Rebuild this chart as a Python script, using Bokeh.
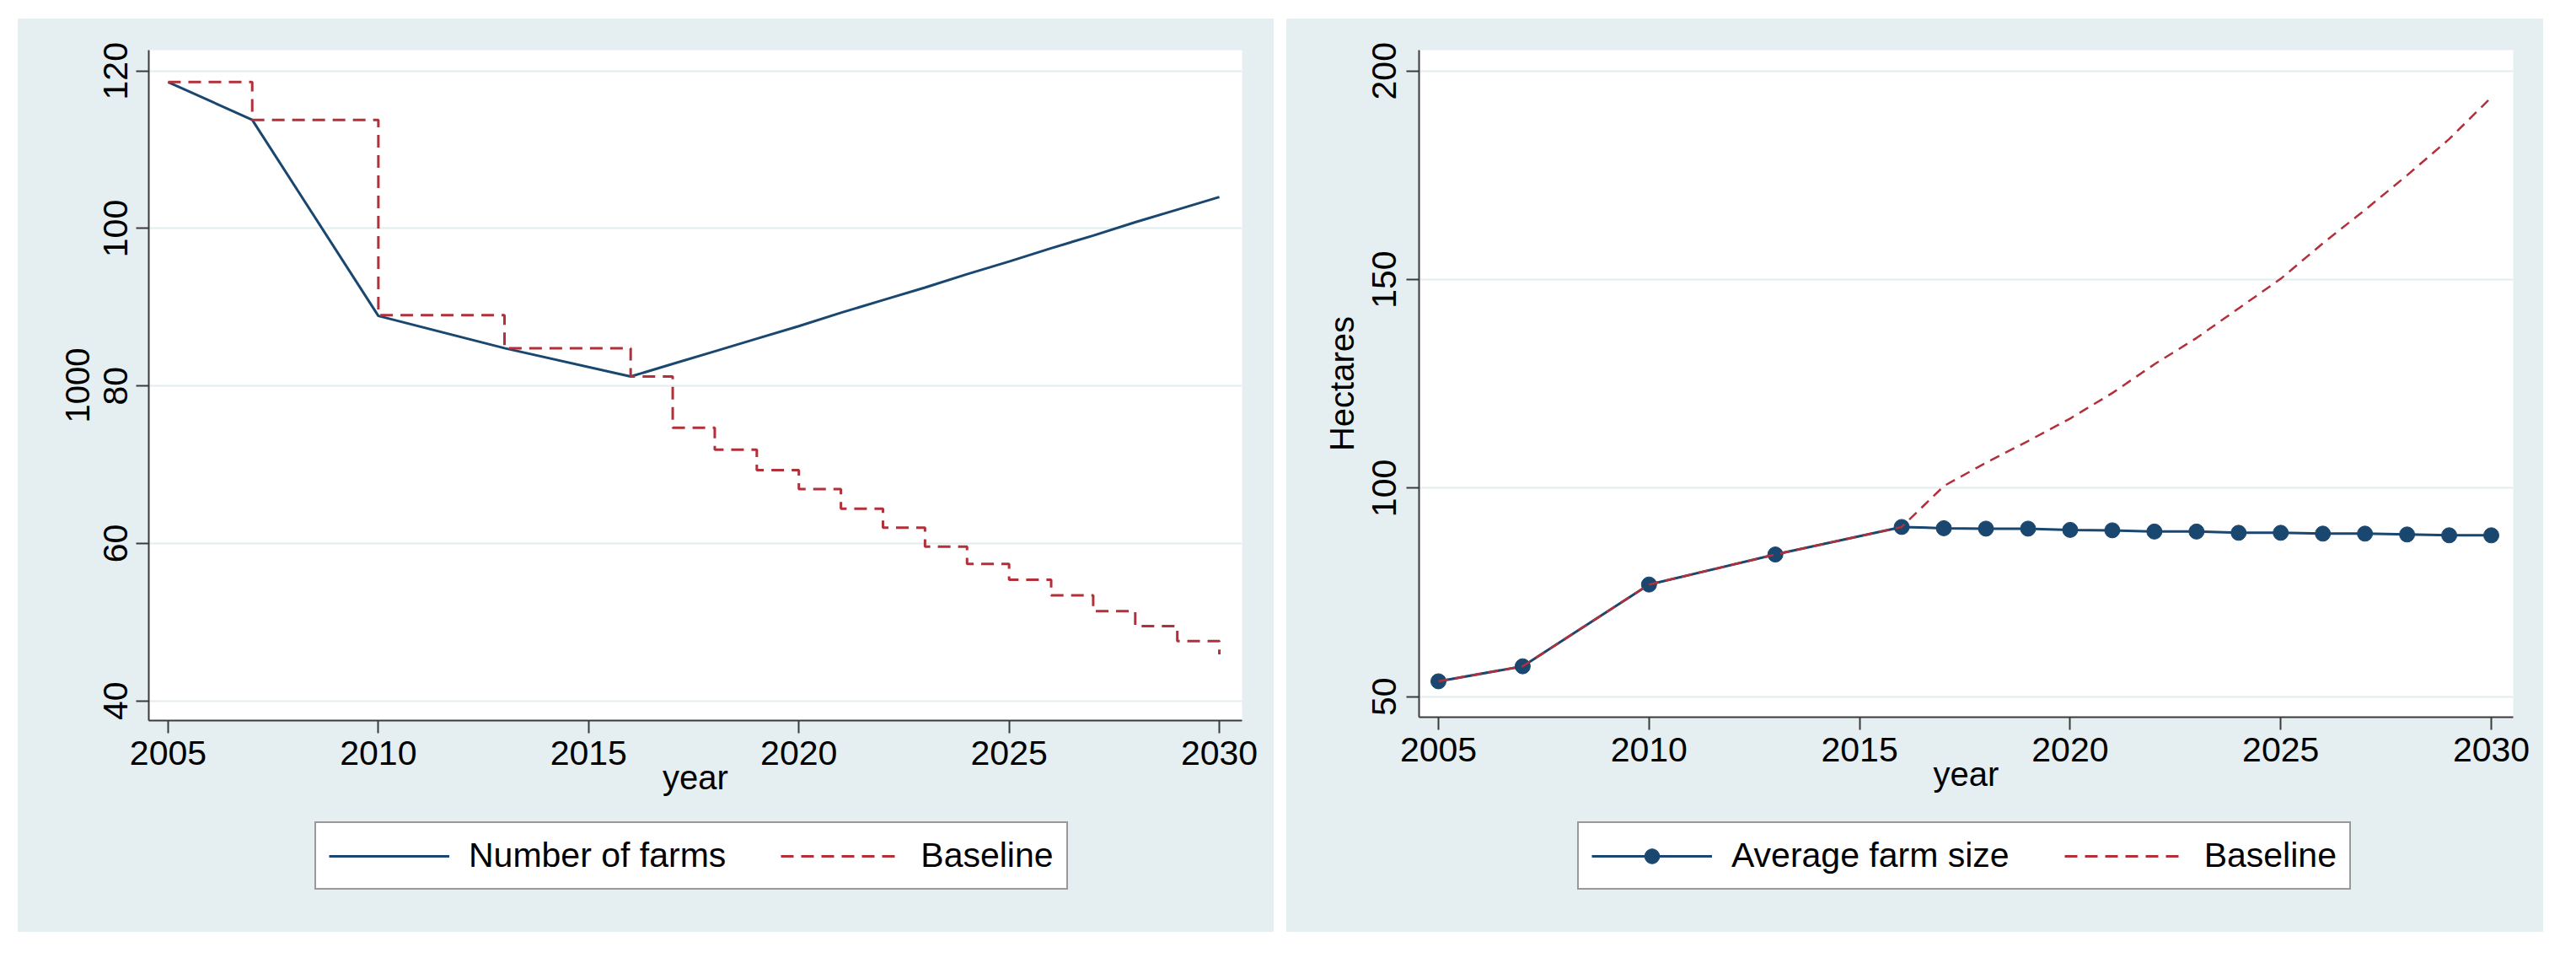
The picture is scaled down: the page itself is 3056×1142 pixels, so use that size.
from bokeh.plotting import figure
from bokeh.models import Range1d, FixedTicker, Legend, LegendItem
from bokeh.layouts import row, column
from bokeh.embed import file_html
from bokeh.resources import INLINE

# ---------------- data ----------------
years = [2005, 2007, 2010, 2013, 2016, 2017, 2018, 2019, 2020, 2021, 2022,
         2023, 2024, 2025, 2026, 2027, 2028, 2029, 2030]

# left panel: number of farms (1000)
farms = [118.6, 113.8, 88.9, 84.8, 81.2, 82.8, 84.4, 86.0, 87.6, 89.3, 90.9,
         92.5, 94.2, 95.8, 97.5, 99.1, 100.8, 102.4, 104.0]
farms_baseline = [118.6, 113.8, 89.0, 84.8, 81.2, 74.7, 71.9, 69.3, 66.9, 64.4,
                  62.0, 59.6, 57.4, 55.4, 53.4, 51.4, 49.5, 47.6, 45.9]

# right panel: average farm size (hectares)
farm_size = [53.7, 57.3, 76.9, 84.1, 90.7, 90.4, 90.3, 90.3, 90.0, 89.9, 89.6,
             89.6, 89.3, 89.3, 89.1, 89.1, 88.9, 88.7, 88.7]
size_baseline = [53.7, 57.3, 76.9, 84.1, 90.7, 100.5, 106.1, 111.3, 116.7, 122.8,
                 129.7, 136.0, 143.1, 150.2, 158.7, 166.7, 175.0, 183.7, 193.7]

x_ticks = [2005, 2010, 2015, 2020, 2025, 2030]
left_y_ticks = [40, 60, 80, 100, 120]
right_y_ticks = [50, 100, 150, 200]

# ---------------- style ----------------
BLUE = "#1a476f"
RED = "#b3303a"
BG = "#e5eff2"
GRID = "#e2edf0"
AXIS = "#3a3a3a"
FONT = "Liberation Sans"
LEG_H = 131


def style(p, yticks, ylabel):
    p.background_fill_color = "white"
    p.border_fill_color = BG
    p.outline_line_color = None
    p.xgrid.grid_line_color = None
    p.ygrid.grid_line_color = GRID
    p.ygrid.grid_line_width = 2
    p.xaxis.ticker = FixedTicker(ticks=x_ticks)
    p.yaxis.ticker = FixedTicker(ticks=yticks)
    for ax in (p.xaxis[0], p.yaxis[0]):
        ax.axis_line_color = AXIS
        ax.axis_line_width = 2
        ax.major_tick_line_color = AXIS
        ax.major_tick_line_width = 2
        ax.major_tick_out = 15
        ax.major_tick_in = 0
        ax.minor_tick_line_color = None
        ax.major_label_text_font = FONT
        ax.major_label_text_font_size = "41px"
        ax.major_label_text_color = "black"
        ax.axis_label_text_font = FONT
        ax.axis_label_text_font_size = "40px"
        ax.axis_label_text_font_style = "normal"
        ax.axis_label_text_color = "black"
    p.xaxis.axis_label = "year"
    p.xaxis.major_label_standoff = 9
    p.xaxis.axis_label_standoff = -10
    p.yaxis.axis_label = ylabel
    p.yaxis.major_label_orientation = "vertical"
    p.yaxis.major_label_standoff = 10


def legend_fig(width, series, loc):
    # a strip below the chart that only shows the legend; its renderers use the
    # chart's own series but lie outside this strip's visible ranges
    lf = figure(frame_width=width, frame_height=LEG_H, output_backend="svg",
                toolbar_location=None, x_axis_type=None, y_axis_type=None,
                x_range=Range1d(0, 1), y_range=Range1d(0, 1),
                min_border=0, min_border_left=0, min_border_right=0,
                min_border_top=0, min_border_bottom=0)
    lf.background_fill_color = BG
    lf.border_fill_color = BG
    lf.outline_line_color = None
    items = []
    for label, ys, kind in series:
        rs = []
        if kind == "blue":
            rs.append(lf.line(years, ys, line_color=BLUE, line_width=3))
        elif kind == "blue_marker":
            rs.append(lf.line(years, ys, line_color=BLUE, line_width=3))
            rs.append(lf.scatter(years, ys, size=18, fill_color=BLUE, line_color=BLUE))
        else:
            rs.append(lf.line(years, ys, line_color=RED, line_width=3, line_dash="15 9"))
        items.append(LegendItem(label=label, renderers=rs))
    leg = Legend(items=items, orientation="horizontal", location=loc)
    leg.label_text_font = FONT
    leg.label_text_font_size = "41px"
    leg.label_text_color = "black"
    leg.glyph_width = 143
    leg.glyph_height = 44
    leg.label_standoff = 23
    leg.spacing = 65
    leg.padding = 15
    leg.margin = 0
    leg.border_line_color = "#333333"
    leg.border_line_width = 2
    leg.background_fill_color = "white"
    leg.background_fill_alpha = 1.0
    lf.add_layout(leg, "center")
    return lf


# ---------------- left panel ----------------
p1 = figure(frame_width=1297, frame_height=795, output_backend="svg",
            toolbar_location=None,
            x_range=Range1d(2004.54, 2030.54), y_range=Range1d(37.5, 122.65),
            min_border_left=155, min_border_right=38, min_border_top=37,
            min_border_bottom=1083 - LEG_H - 37 - 795)
style(p1, left_y_ticks, "1000")
p1.yaxis.axis_label_standoff = 15

p1.line(years, farms, line_color=BLUE, line_width=3)
p1.step(years, farms_baseline, mode="after", line_color=RED, line_width=3,
        line_dash="15 9")
lg1 = legend_fig(1490, [("Number of farms", farms, "blue"),
                        ("Baseline", farms_baseline, "red")], (352, 50))
col1 = column(p1, lg1)
col1.margin = (22, 0, 0, 21)
col1.styles = {"background-color": BG}

# ---------------- right panel ----------------
p2 = figure(frame_width=1298, frame_height=791, output_backend="svg",
            toolbar_location=None,
            x_range=Range1d(2004.54, 2030.52), y_range=Range1d(45.1, 205.0),
            min_border_left=157, min_border_right=36, min_border_top=37,
            min_border_bottom=1083 - LEG_H - 37 - 791)
style(p2, right_y_ticks, "Hectares")
p2.yaxis.axis_label_standoff = 12
p2.yaxis.major_label_standoff = 12

p2.line(years, farm_size, line_color=BLUE, line_width=3)
p2.scatter(years, farm_size, size=18, fill_color=BLUE, line_color=BLUE)
p2.line(years, size_baseline, line_color=RED, line_width=2.5, line_dash="12 8")
lg2 = legend_fig(1491, [("Average farm size", farm_size, "blue_marker"),
                        ("Baseline", size_baseline, "red")], (345, 50))
col2 = column(p2, lg2)
col2.margin = (22, 0, 0, 15)
col2.styles = {"background-color": BG}

layout = row(col1, col2)
open("out.html", "w").write(file_html(layout, INLINE))
